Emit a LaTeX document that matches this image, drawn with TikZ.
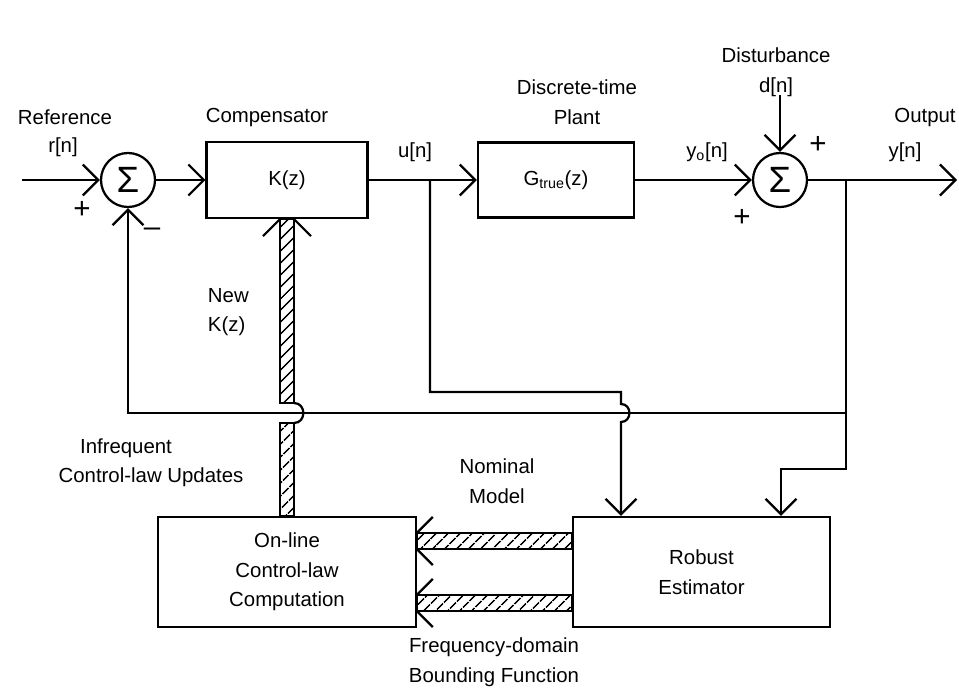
\documentclass[tikz,border=0pt]{standalone}
\usepackage{fontspec}
\setmainfont{Liberation Sans}
\usetikzlibrary{arrows.meta,calc,patterns.meta}

\tikzset{
  block/.style={draw, rectangle, line width=1.6pt, inner sep=0pt},
  sumnode/.style={draw, circle, line width=1.6pt, minimum size=1.35cm, inner sep=0pt, font=\fontsize{26}{26}\selectfont},
  sig/.style={line width=1.6pt, -{Straight Barb[length=11pt,width=22pt]}},
  wire/.style={line width=1.6pt},
  hatchbar/.style={line width=1.6pt, pattern={Lines[angle=45,distance=6.5pt,line width=1.2pt]}},
  sign/.style={font=\fontsize{21}{21}\selectfont},
}

\begin{document}
\begin{tikzpicture}[x=0.025cm, y=-0.025cm, font=\fontsize{14.5}{21}\selectfont]
    \useasboundingbox (0,0) rectangle (959,698);

    % Blocks
    \node[block, minimum width=4.02cm, minimum height=1.9cm] (comp) at (287,180) {K(z)};
    \node[block, minimum width=3.9cm, minimum height=1.88cm] (plant) at (556,180) {G\textsubscript{true}(z)};
    \node[block, minimum width=6.43cm, minimum height=2.75cm, align=center] (online) at (287,572) {On-line\\Control-law\\Computation};
    \node[block, minimum width=6.43cm, minimum height=2.75cm, align=center] (est) at (701.5,572) {Robust\\Estimator};

    % Summing junctions
    \node[sumnode] (sum1) at (128,180) {Σ};
    \node[sumnode] (sum2) at (780,180) {Σ};

    % Free ends and branch points
    \coordinate (rin) at (22,180);
    \coordinate (yout) at (957,180);
    \coordinate (dist) at (780,95);
    \coordinate (utap) at (430,180);
    \coordinate (ytap) at (846,180);
    \coordinate (fbcorner) at (846,413);
    \coordinate (ybend) at (781,469);
    \coordinate (ubend) at (621,392);
    \coordinate (kbarhop) at (comp.south |- fbcorner);

    % Forward path
    \draw[sig] (rin) -- (sum1);
    \draw[sig] (sum1) -- (comp);
    \draw[sig] (comp) -- (plant);
    \draw[sig] (plant) -- (sum2);
    \draw[sig] (dist) -- (sum2);
    \draw[sig] (sum2) -- (yout);

    % Feedback and estimator inputs
    \draw[sig] (ytap) -- (fbcorner) -- (fbcorner -| sum1) -- (sum1);
    \draw[sig] (fbcorner) |- (ybend) -- (ybend |- est.north);
    \draw[sig] (utap) |- (ubend) -- ($(ubend |- fbcorner)+(0,-9)$)
        to[out=0, in=0, looseness=1.6] ($(ubend |- fbcorner)+(0,9)$) -- (ubend |- est.north);

    % New K(z) bar
    \draw[hatchbar] ($(comp.south)+(-7,0)$) rectangle ($(kbarhop)+(7,-10)$);
    \draw[hatchbar] ($(kbarhop)+(-7,10)$) rectangle ($(online.north)+(7,0)$);
    \draw[wire] ($(kbarhop)+(7,-10)$) to[out=0, in=0, looseness=1.6] ($(kbarhop)+(7,10)$);
    \draw[wire] ($(comp.south)+(-7,0)$) -- ++(-17,17);
    \draw[wire] ($(comp.south)+(7,0)$) -- ++(17,17);

    % Nominal model bar
    \draw[hatchbar] ($(est.west)+(0,-39)$) rectangle ($(online.east)+(0,-23)$);
    \draw[wire] ($(online.east)+(0,-39)$) -- ++(16,-16);
    \draw[wire] ($(online.east)+(0,-23)$) -- ++(16,16);

    % Bounding function bar
    \draw[hatchbar] ($(est.west)+(0,23)$) rectangle ($(online.east)+(0,39)$);
    \draw[wire] ($(online.east)+(0,23)$) -- ++(16,-16);
    \draw[wire] ($(online.east)+(0,39)$) -- ++(16,16);

    % Signal labels
    \node (lref) at (65,117) {Reference};
    \node (lr) at (63,147) {r[n]};
    \node (lcomp) at (267,117) {Compensator};
    \node[align=center] (lplant) at (577,102) {Discrete-time\\Plant};
    \node (lu) at (415,152) {u[n]};
    \node (lyo) at (707,152) {y\textsubscript{o}[n]};
    \node[align=center] (ldist) at (776,72) {Disturbance\\d[n]};
    \node (lout) at (925,117) {Output};
    \node (ly) at (905,152) {y[n]};
    \node[align=left, anchor=west] (lnewk) at (203,312) {New\\K(z)};
    \node (linf) at (126,448) {Infrequent};
    \node (lupd) at (151,477) {Control-law Updates};
    \node[align=center] (lnom) at (497,481) {Nominal\\Model};
    \node[align=center] (lbound) at (494,662) {Frequency-domain\\Bounding Function};

    % Signs
    \node[sign] (p1) at (82,210) {+};
    \node[sign] (m1) at (152,232) {–};
    \node[sign] (p2) at (818,145) {+};
    \node[sign] (p3) at (742,218) {+};
\end{tikzpicture}
\end{document}
